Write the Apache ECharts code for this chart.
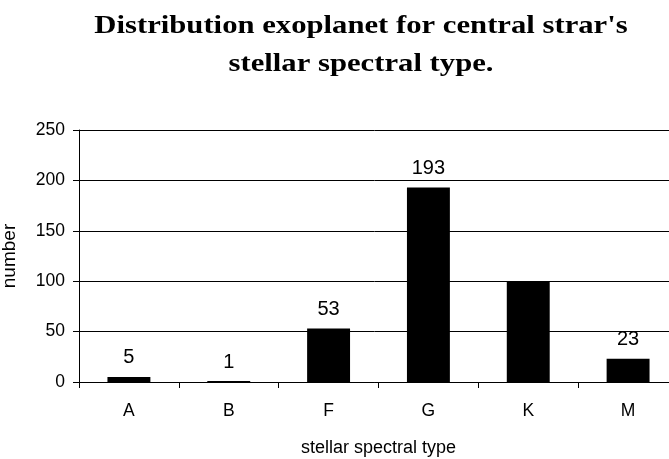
<!DOCTYPE html>
<html><head><meta charset="utf-8">
<script src="https://cdn.jsdelivr.net/npm/echarts@6/dist/echarts.min.js"></script>
<style>html,body{margin:0;padding:0;background:#fff}#c{width:669px;height:459px}</style>
</head><body><div id="c"></div>
<script>
const titleLines = ["Distribution exoplanet for central strar's", "stellar spectral type."];
const categories = ['A','B','F','G','K','M'];
const counts = [5, 1, 53, 193, 100, 23];
const showLabel = [true, true, true, true, false, true];
const yTicks = [0, 50, 100, 150, 200, 250];
const xName = 'stellar spectral type';
const yName = 'number';

const chart = echarts.init(document.getElementById('c'));
const titleFont = 'bold 26px "Liberation Serif"';
chart.setOption({
  animation: false,
  backgroundColor: '#fff',
  graphic: titleLines.map((t, i) => ({
    type: 'text', x: 361, y: 26 + i * 38, scaleX: 1.18,
    style: {text: t, font: titleFont, fill: '#000', textAlign: 'center', textVerticalAlign: 'middle'}
  })),
  grid: {left: 79, width: 599, top: 130, bottom: 77, containLabel: false, outerBoundsMode: 'none'},
  xAxis: {
    type: 'category', data: categories,
    name: xName, nameLocation: 'middle', nameGap: 57,
    nameTextStyle: {fontFamily: 'Liberation Sans', fontSize: 18, color: '#000'},
    axisLine: {lineStyle: {color: '#000', width: 1}},
    axisTick: {show: true, length: 6, lineStyle: {color: '#000'}},
    axisLabel: {fontFamily: 'Liberation Sans', fontSize: 17.5, color: '#000', margin: 20}
  },
  yAxis: {
    type: 'value', min: yTicks[0], max: yTicks[yTicks.length-1], interval: 50,
    name: yName, nameLocation: 'middle', nameGap: 60,
    nameTextStyle: {fontFamily: 'Liberation Sans', fontSize: 19, color: '#000'},
    axisLine: {show: true, lineStyle: {color: '#000', width: 1}},
    axisTick: {show: true, length: 6, lineStyle: {color: '#000'}},
    axisLabel: {fontFamily: 'Liberation Sans', fontSize: 17.5, color: '#000', margin: 14},
    splitLine: {show: true, lineStyle: {color: '#000', width: 1}}
  },
  series: [{
    type: 'bar',
    data: counts.map((v, i) => ({value: v, label: {show: showLabel[i]}})),
    barWidth: '43%',
    itemStyle: {color: '#000'},
    label: {position: 'top', distance: 9, fontFamily: 'Liberation Sans', fontSize: 20, color: '#000'}
  }]
});
</script></body></html>
